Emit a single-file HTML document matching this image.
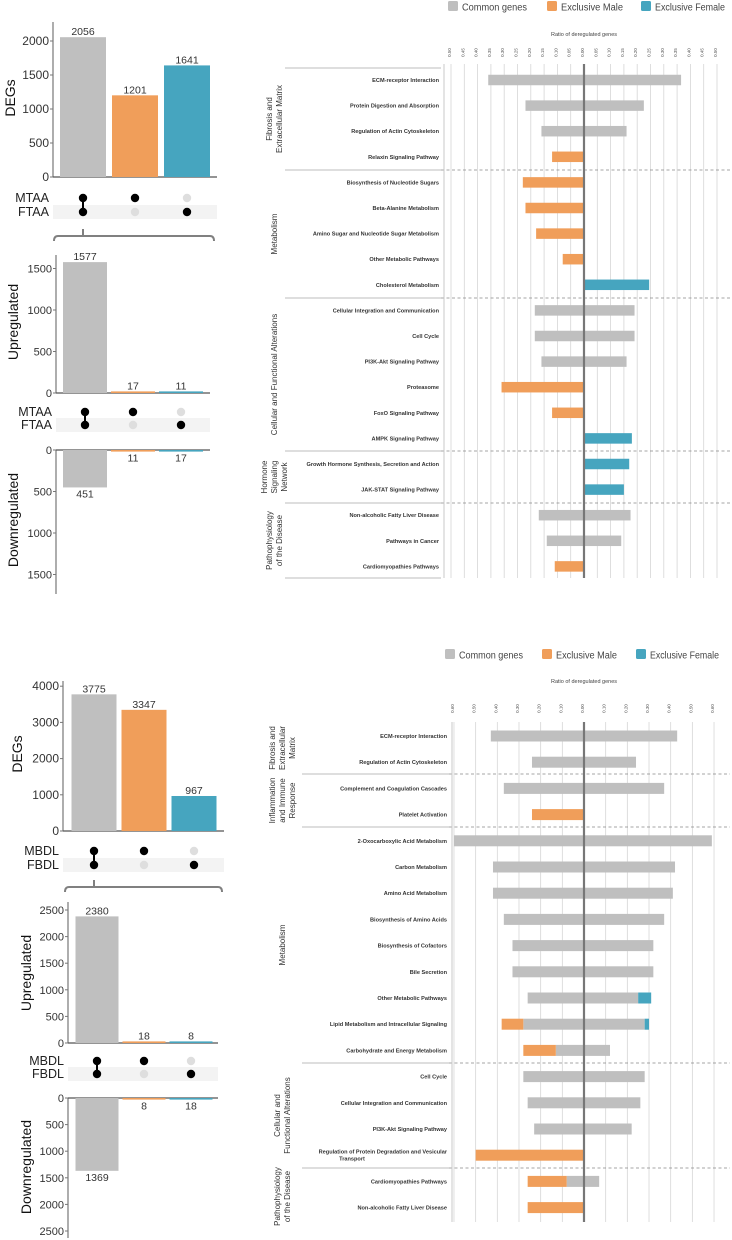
<!DOCTYPE html>
<html><head><meta charset="utf-8">
<style>
html,body{margin:0;padding:0;background:#fff;}
svg{display:block;font-family:"Liberation Sans",sans-serif;}
</style></head>
<body>
<svg id="fig" width="732" height="1240" viewBox="0 0 732 1240" xmlns="http://www.w3.org/2000/svg"></svg>
<script>
// ---------- UpSet panel data ----------
const setCats = ["common","male","female"];
const degs1 = [2056,1201,1641];
const up1 = [1577,17,11];
const down1 = [451,11,17];
const degs2 = [3775,3347,967];
const up2 = [2380,18,8];
const down2 = [1369,8,18];
const setNames1 = ["MTAA","FTAA"];
const setNames2 = ["MBDL","FBDL"];
const degTicks1 = [0,500,1000,1500,2000];
const upTicks1 = [0,500,1000,1500];
const degTicks2 = [0,1000,2000,3000,4000];
const upTicks2 = [0,500,1000,1500,2000,2500];

// ---------- pathway chart 1 data ----------
const paths1 = ["ECM-receptor Interaction","Protein Digestion and Absorption","Regulation of Actin Cytoskeleton","Relaxin Signaling Pathway","Biosynthesis of Nucleotide Sugars","Beta-Alanine Metabolism","Amino Sugar and Nucleotide Sugar Metabolism","Other Metabolic Pathways","Cholesterol Metabolism","Cellular Integration and Communication","Cell Cycle","PI3K-Akt Signaling Pathway","Proteasome","FoxO Signaling Pathway","AMPK Signaling Pathway","Growth Hormone Synthesis, Secretion and Action","JAK-STAT Signaling Pathway","Non-alcoholic Fatty Liver Disease","Pathways in Cancer","Cardiomyopathies Pathways"];
const commonL1 = [0.36,0.22,0.16,0,0,0,0,0,0,0.185,0.185,0.16,0,0,0,0,0,0.17,0.14,0];
const maleL1   = [0,0,0,0.12,0.23,0.22,0.18,0.08,0,0,0,0,0.31,0.12,0,0,0,0,0,0.11];
const commonR1 = [0.365,0.225,0.16,0,0,0,0,0,0,0.19,0.19,0.16,0,0,0,0,0,0.175,0.14,0];
const femaleR1 = [0,0,0,0,0,0,0,0,0.245,0,0,0,0,0,0.18,0.17,0.15,0,0,0];
const ticks1 = ["0.50","0.45","0.40","0.35","0.30","0.25","0.20","0.15","0.10","0.05","0.00","0.05","0.10","0.15","0.20","0.25","0.30","0.35","0.40","0.45","0.50"];
const tickVals1 = [-0.5,-0.45,-0.4,-0.35,-0.3,-0.25,-0.2,-0.15,-0.1,-0.05,0,0.05,0.1,0.15,0.2,0.25,0.3,0.35,0.4,0.45,0.5];

// ---------- pathway chart 2 data ----------
const paths2 = ["ECM-receptor Interaction","Regulation of Actin Cytoskeleton","Complement and Coagulation Cascades","Platelet Activation","2-Oxocarboxylic Acid Metabolism","Carbon Metabolism","Amino Acid Metabolism","Biosynthesis of Amino Acids","Biosynthesis of Cofactors","Bile Secretion","Other Metabolic Pathways","Lipid Metabolism and Intracellular Signaling","Carbohydrate and Energy Metabolism","Cell Cycle","Cellular Integration and Communication","PI3K-Akt Signaling Pathway","Regulation of Protein Degradation and Vesicular|Transport","Cardiomyopathies Pathways","Non-alcoholic Fatty Liver Disease"];
const commonL2 = [0.43,0.24,0.37,0,0.6,0.42,0.42,0.37,0.33,0.33,0.26,0.28,0.13,0.28,0.26,0.23,0,0.08,0];
const maleL2   = [0,0,0,0.24,0,0,0,0,0,0,0,0.1,0.15,0,0,0,0.5,0.18,0.26];
const commonR2 = [0.43,0.24,0.37,0,0.59,0.42,0.41,0.37,0.32,0.32,0.25,0.28,0.12,0.28,0.26,0.22,0,0.07,0];
const femaleR2 = [0,0,0,0,0,0,0,0,0,0,0.06,0.02,0,0,0,0,0,0,0];
const ticks2 = ["0.60","0.50","0.40","0.30","0.20","0.10","0.00","0.10","0.20","0.30","0.40","0.50","0.60"];
const tickVals2 = [-0.6,-0.5,-0.4,-0.3,-0.2,-0.1,0,0.1,0.2,0.3,0.4,0.5,0.6];

const NS="http://www.w3.org/2000/svg";
const svg=document.getElementById('fig');
const COL={common:"#bfbfbf",male:"#f09e5a",female:"#46a5bf"};
function mk(tag,attrs,parent){const e=document.createElementNS(NS,tag);for(const k in attrs)e.setAttribute(k,attrs[k]);(parent||svg).appendChild(e);return e;}
function txt(s,attrs,parent){const e=mk('text',attrs,parent);e.textContent=s;return e;}

// ---------- UpSet drawing ----------
function barPanel(o){
  const g=mk('g',{});
  
  
  const ys=v=>o.dir*v*o.scale;
  mk('line',{x1:o.ax,y1:o.y0,x2:o.ax,y2:o.yEnd,stroke:"#777","stroke-width":1.2},g);
  mk('line',{x1:o.ax,y1:o.y0,x2:o.right,y2:o.y0,stroke:"#555","stroke-width":1.2},g);
  o.ticks.forEach(t=>{
    const y=o.y0+ys(t);
    mk('line',{x1:o.ax-3,y1:y,x2:o.ax,y2:y,stroke:"#777"},g);
    const tl=txt(String(t),{x:o.ax-4,y:y+4,'font-size':o.fs,'text-anchor':'end',fill:'#333'},g);
    
    
  });
  o.vals.forEach((v,i)=>{
    const cx=o.cx[i];
    const h=Math.max(v*o.scale,1.6);
    const y=o.dir>0?o.y0:o.y0-h;
    const r=mk('rect',{x:cx-o.bw/2,y:y,width:o.bw,height:h,fill:COL[setCats[i]]},g);
    
    
    const ly=o.dir>0?o.y0+h+10:o.y0-h-2;
    const l=txt(String(v),{x:cx,y:ly,'font-size':10.5,'text-anchor':'middle',fill:'#333'},g);
    
    
  });
  const t=txt(o.title,{x:o.tx,y:o.ty,'font-size':14,'text-anchor':'middle',fill:'#111',transform:`rotate(-90 ${o.tx} ${o.ty})`},g);
  
  
}
function matrix(o){
  const g=mk('g',{});
  
  
  mk('rect',{x:o.ax,y:o.y2-7,width:o.right-o.ax,height:14,fill:'#f3f3f3'},g);
  txt(o.names[0],{x:o.ax-4,y:o.y1+4,'font-size':12.5,'text-anchor':'end',fill:'#222'},g);
  txt(o.names[1],{x:o.ax-4,y:o.y2+4,'font-size':12.5,'text-anchor':'end',fill:'#222'},g);
  const on=[[1,1],[1,0],[0,1]];
  o.cx.forEach((cx,i)=>{
    if(on[i][0]&&on[i][1]) mk('line',{x1:cx,y1:o.y1,x2:cx,y2:o.y2,stroke:'#000','stroke-width':2},g);
    [o.y1,o.y2].forEach((y,j)=>{
      const c=mk('circle',{cx:cx,cy:y,r:4.2,fill:on[i][j]?'#000':'#dedede'},g);
      
      
    });
  });
}
function bracket(x1,x2,xc,y){
  const p=mk('path',{d:`M${x1} ${y+5} Q${x1} ${y} ${x1+4} ${y} L${x2-4} ${y} Q${x2} ${y} ${x2} ${y+5} M${xc} ${y} L${xc} ${y-7}`,fill:'none',stroke:'#808080','stroke-width':2});
  
  
}

barPanel({name:'degs-panel-1',ax:53,y0:177,yEnd:22,right:217,scale:0.068,dir:-1,ticks:degTicks1,vals:degs1,cx:[83,135,187],bw:46,fs:12,title:'DEGs',tx:15,ty:98});
matrix({ax:53,right:217,y1:198,y2:212,cx:[83,135,187],names:setNames1});
bracket(54,214,83,236);
barPanel({name:'up-panel-1',ax:56,y0:393,yEnd:255,right:210,scale:0.083,dir:-1,ticks:upTicks1,vals:up1,cx:[85,133,181],bw:44,fs:11,title:'Upregulated',tx:18,ty:322});
matrix({ax:56,right:210,y1:412,y2:425,cx:[85,133,181],names:setNames1});
barPanel({name:'down-panel-1',ax:56,y0:450,yEnd:594,right:210,scale:0.083,dir:1,ticks:upTicks1,vals:down1,cx:[85,133,181],bw:44,fs:11,title:'Downregulated',tx:18,ty:520});

barPanel({name:'degs-panel-2',ax:63,y0:831,yEnd:681,right:224,scale:0.0362,dir:-1,ticks:degTicks2,vals:degs2,cx:[94,144,194],bw:45,fs:12,title:'DEGs',tx:22,ty:754});
matrix({ax:63,right:224,y1:851,y2:865,cx:[94,144,194],names:setNames2});
bracket(65,222,94,887);
barPanel({name:'up-panel-2',ax:68,y0:1043,yEnd:902,right:218,scale:0.0532,dir:-1,ticks:upTicks2,vals:up2,cx:[97,144,191],bw:43,fs:11,title:'Upregulated',tx:31,ty:973});
matrix({ax:68,right:218,y1:1061,y2:1074,cx:[97,144,191],names:setNames2});
barPanel({name:'down-panel-2',ax:68,y0:1098,yEnd:1238,right:218,scale:0.0532,dir:1,ticks:upTicks2,vals:down2,cx:[97,144,191],bw:43,fs:11,title:'Downregulated',tx:31,ty:1167});

// ---------- pathway chart drawing ----------
function legend(y,xs,lens){
  const items=[["Common genes","common"],["Exclusive Male","male"],["Exclusive Female","female"]];
  items.forEach((it,i)=>{
    const g=mk('g',{});
    
    
    mk('rect',{x:xs[i],y:y-6,width:10,height:10,rx:1.5,fill:COL[it[1]]},g);
    txt(it[0],{x:xs[i]+14,y:y+3.5,'font-size':10,fill:'#444',textLength:lens[i],lengthAdjust:'spacingAndGlyphs'},g);
  });
}
function pathChart(o){
  const g=mk('g',{});
  
  
  const X=v=>o.zero+v*o.k;
  o.tickVals.forEach((v,i)=>{
    const x=X(v);
    const gl=mk('line',{x1:x,y1:o.gTop,x2:x,y2:o.gBot,stroke:'#d6d6d6','stroke-width':0.8},g);
    
    
    const t=txt(o.ticks[i],{x:x+1.5,y:o.tickY,'font-size':4.5,'text-anchor':'middle',fill:'#555',transform:`rotate(-90 ${x} ${o.tickY})`},g);
    
    
  });
  const at=txt('Ratio of deregulated  genes',{x:o.zero,y:o.titleY,'font-size':5.5,'text-anchor':'middle',fill:'#444'},g);
  
  
  o.seps.forEach((y,i)=>{
    mk('line',{x1:o.sepX1,y1:y,x2:o.labelEdge,y2:y,stroke:'#bdbdbd','stroke-width':1},g);
    if(o.dashed[i]) mk('line',{x1:o.labelEdge,y1:y,x2:730,y2:y,stroke:'#888','stroke-width':0.8,'stroke-dasharray':'3,2.5'},g);
  });
  o.labels.forEach((lab,i)=>{
    const y=o.y0+i*o.step;
    const lines=lab.split('|');
    lines.forEach((ln,j)=>{
      const t=txt(ln,{x:o.labelX,y:y+2+(j-(lines.length-1)/2)*7,'font-size':5.6,'text-anchor':lines.length>1&&j>0?'middle':'end',fill:'#333','font-weight':'bold'},g);
      if(lines.length>1&&j>0) t.setAttribute('x',o.labelX-95);
      
      
    });
    const h=o.bh, by=y-h/2;
    const cl=o.cL[i], ml=o.mL[i], cr=o.cR[i], fr=o.fR[i];
    if(cl>0){const r=mk('rect',{x:X(-cl),y:by,width:X(0)-X(-cl),height:h,fill:COL.common},g);
      
      }
    if(ml>0){const r=mk('rect',{x:X(-(cl+ml)),y:by,width:X(-cl)-X(-(cl+ml)),height:h,fill:COL.male},g);
      
      }
    if(cr>0){const r=mk('rect',{x:X(0),y:by,width:X(cr)-X(0),height:h,fill:COL.common},g);
      
      }
    if(fr>0){const r=mk('rect',{x:X(cr),y:by,width:X(cr+fr)-X(cr),height:h,fill:COL.female},g);
      
      }
  });
  mk('line',{x1:o.labelEdge+3,y1:o.gTop,x2:o.labelEdge+3,y2:o.gBot,stroke:'#c8c8c8','stroke-width':1},g);
  const z=mk('line',{x1:X(0),y1:o.gTop,x2:X(0),y2:o.gBot,stroke:'#777','stroke-width':2.2},g);
  
  
  o.groups.forEach(gr=>{
    const lines=gr.t.split('|');
    const cy=(gr.a+gr.b)/2;
    lines.forEach((ln,j)=>{
      const x=o.groupX+(j-(lines.length-1)/2)*10;
      const t=txt(ln,{x:x,y:cy,'font-size':8,'text-anchor':'middle',fill:'#333',transform:`rotate(-90 ${x} ${cy})`},g);
      
      
    });
  });
}

legend(7,[448,547,641],[65,62,70]);
pathChart({name:'pathway-chart-1',zero:584,k:266,tickVals:tickVals1,ticks:ticks1,gTop:64,gBot:578,tickY:54,titleY:36,
  seps:[68,170,298,451,503,578],dashed:[0,1,1,1,1,0],sepX1:285,labelEdge:441,labelX:439,
  labels:paths1,y0:80,step:25.6,bh:10.5,cL:commonL1,mL:maleL1,cR:commonR1,fR:femaleR1,groupX:277,
  groups:[{t:'Fibrosis and|Extracellular Matrix',a:68,b:170},{t:'Metabolism',a:170,b:298},{t:'Cellular and Functional Alterations',a:298,b:451},{t:'Hormone|Signaling|Network',a:451,b:503},{t:'Pathophysiology|of the Disease',a:503,b:578}]});

legend(655,[445,542,636],[64,61,69]);
pathChart({name:'pathway-chart-2',zero:584,k:216.7,tickVals:tickVals2,ticks:ticks2,gTop:722,gBot:1222,tickY:710,titleY:683,
  seps:[774,827,1063,1168],dashed:[1,1,1,1],sepX1:302,labelEdge:449,labelX:447,
  labels:paths2,y0:736,step:26.2,bh:11,cL:commonL2,mL:maleL2,cR:commonR2,fR:femaleR2,groupX:285,
  groups:[{t:'Fibrosis and|Extracellular|Matrix',a:722,b:774},{t:'Inflammation|and Immune|Response',a:774,b:827},{t:'Metabolism',a:827,b:1063},{t:'Cellular and|Functional Alterations',a:1063,b:1168},{t:'Pathophysiology|of the Disease',a:1168,b:1225}]});
</script>
</body></html>
